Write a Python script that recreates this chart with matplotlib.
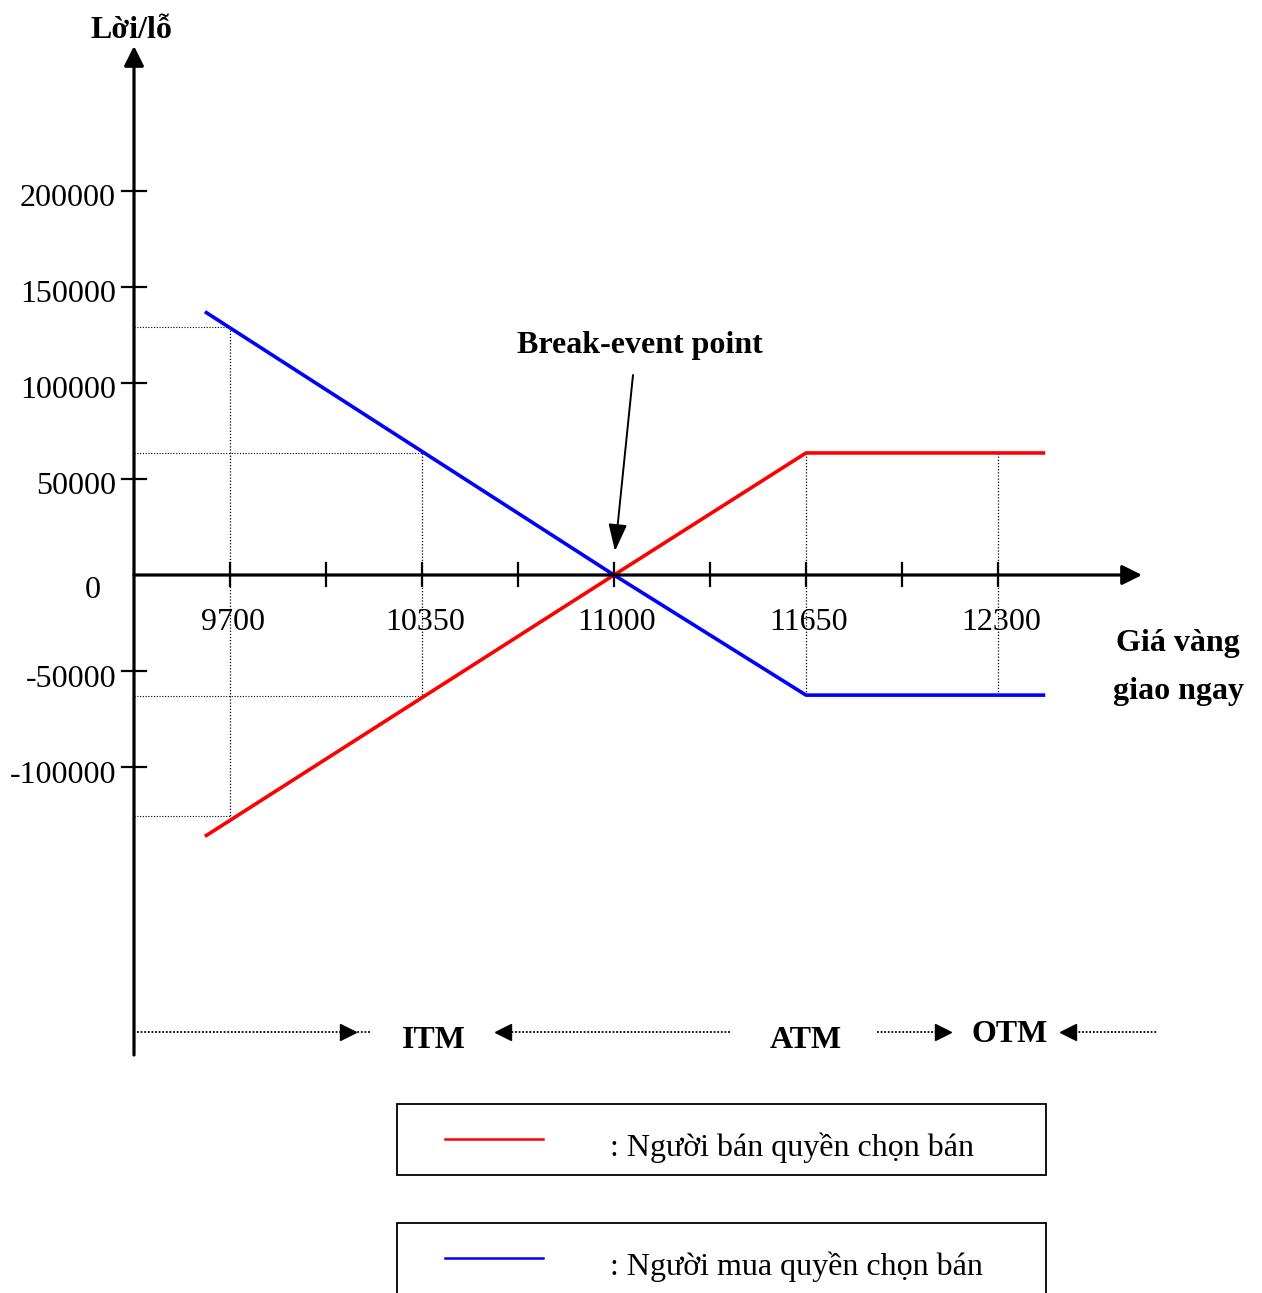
import matplotlib.pyplot as plt
from matplotlib.patches import Rectangle

plt.rcParams['font.family'] = ['Liberation Serif', 'DejaVu Serif']

# data
price_ticks = [9700, 10350, 11000, 11650, 12300]
minor_ticks = [10025, 10675, 11325, 11975]
pl_ticks = [200000, 150000, 100000, 50000, -50000, -100000]

seller_price = [9615, 11000, 11650, 12460]
seller_pl = [-136000, 0, 63500, 63500]
buyer_price = [9615, 11000, 11650, 12460]
buyer_pl = [137000, 0, -62500, -62500]

guide_price = [9700, 10350, 11650, 12300]
guide_top = [129000, 63500, 63500, 63500]
guide_bot = [-125500, -63000, -62500, -62500]

# pixel layout -> data coordinates
W, H = 1262, 1293
X_REF, X_PX, X_SC = 9700, 230, 192 / 650
Y_PX, Y_SC = 575, 96.1 / 50000


def px(x, y):
    return X_REF + (x - X_PX) / X_SC, (Y_PX - y) / Y_SC


def dx(p):
    return p / X_SC


def dy(p):
    return p / Y_SC


fig = plt.figure(figsize=(W / 100, H / 100), dpi=100)
ax = fig.add_axes([0, 0, 1, 1])
ax.set_xlim(px(0, 0)[0], px(W, 0)[0])
ax.set_ylim(px(0, H)[1], px(0, 0)[1])
ax.axis('off')

x0 = px(134, 0)[0]  # vertical axis position

# axes with arrows
ax.annotate('', xy=(x0, px(0, 46)[1]), xytext=(x0, px(0, 1055)[1]),
            arrowprops=dict(arrowstyle='-|>,head_length=0.6,head_width=0.3',
                            mutation_scale=20, lw=2.3, color='black',
                            shrinkA=0, shrinkB=0))
ax.annotate('', xy=(px(1142, 0)[0], 0), xytext=(x0, 0),
            arrowprops=dict(arrowstyle='-|>,head_length=0.6,head_width=0.3',
                            mutation_scale=20, lw=2.3, color='black',
                            shrinkA=0, shrinkB=0))

# y ticks
for v in pl_ticks:
    ax.plot([x0 - dx(12), x0 + dx(12)], [v, v], color='black', lw=1.6)
    ax.text(px(116, 0)[0], v - dy(8), str(v), ha='right', va='center', fontsize=23)
ax.text(px(101, 0)[0], -dy(16), '0', ha='right', va='center', fontsize=23)

# x ticks
for p in price_ticks + minor_ticks:
    ax.plot([p, p], [dy(12), -dy(11)], color='black', lw=1.6)
for p in price_ticks:
    ax.text(p + dx(3), -dy(48), str(p), ha='center', va='center', fontsize=23)

# dotted guides
for p, t, b in zip(guide_price, guide_top, guide_bot):
    ax.plot([p, p], [t, b], color='black', lw=0.9, ls=(0, (1, 1.5)))
for p, t, b in zip(guide_price[:2], guide_top[:2], guide_bot[:2]):
    ax.plot([x0, p], [t, t], color='black', lw=0.8, ls=(0, (1, 1.5)))
    ax.plot([x0, p], [b, b], color='black', lw=0.8, ls=(0, (1, 1.5)))

# payoff lines
ax.plot(buyer_price, buyer_pl, color='#0000ff', lw=2.6, solid_capstyle='butt')
ax.plot(seller_price, seller_pl, color='#ff0000', lw=2.6, solid_capstyle='butt')

# labels
ax.text(*px(131, 30), 'Lời/lỗ', ha='center', va='center', fontsize=23, fontweight='bold')
ax.text(*px(640, 346), 'Break-event point', ha='center', va='center',
        fontsize=23, fontweight='bold')
ax.annotate('', xy=(11000 + dx(1), dy(24)), xytext=px(633, 375),
            arrowprops=dict(arrowstyle='-|>,head_length=1.1,head_width=0.38',
                            mutation_scale=15, lw=1.4, color='black',
                            shrinkA=0, shrinkB=0))
ax.text(*px(1178, 644), 'Giá vàng', ha='center', va='center', fontsize=23, fontweight='bold')
ax.text(*px(1178, 692), 'giao ngay', ha='center', va='center', fontsize=23, fontweight='bold')

# ITM / ATM / OTM row
ry = px(0, 1032)[1]
for a, b in [(137, 370), (497, 731), (877, 942), (1064, 1157)]:
    ax.plot([px(a, 0)[0], px(b, 0)[0]], [ry, ry], color='black', lw=1.3, ls=(0, (1, 1)))
for xh, m in [(348, '>'), (503, '<'), (943, '>'), (1068, '<')]:
    ax.plot(px(xh, 0)[0], ry, marker=m, ms=12, color='black', mec='black')
for xc, yc, s in [(434, 1040, 'ITM'), (806, 1040, 'ATM'), (1010, 1034, 'OTM')]:
    ax.text(*px(xc, yc), s, ha='center', va='center', fontsize=23, fontweight='bold')

# legend boxes
for top, bot, col, lab in [(1104, 1175, '#ff0000', ': Người bán quyền chọn bán'),
                           (1223, 1300, '#0000ff', ': Người mua quyền chọn bán')]:
    xa, ya = px(397, bot)
    xb, yb = px(1046, top)
    ax.add_patch(Rectangle((xa, ya), xb - xa, yb - ya, fill=False, lw=1.3,
                           ec='black', clip_on=False))
    ly = px(0, top + 35)[1]
    ax.plot([px(445, 0)[0], px(543, 0)[0]], [ly, ly], color=col, lw=1.8)
    ax.text(px(610, 0)[0], px(0, top + 44)[1], lab, ha='left', va='center', fontsize=23)

fig.savefig('out.png', dpi=100)
